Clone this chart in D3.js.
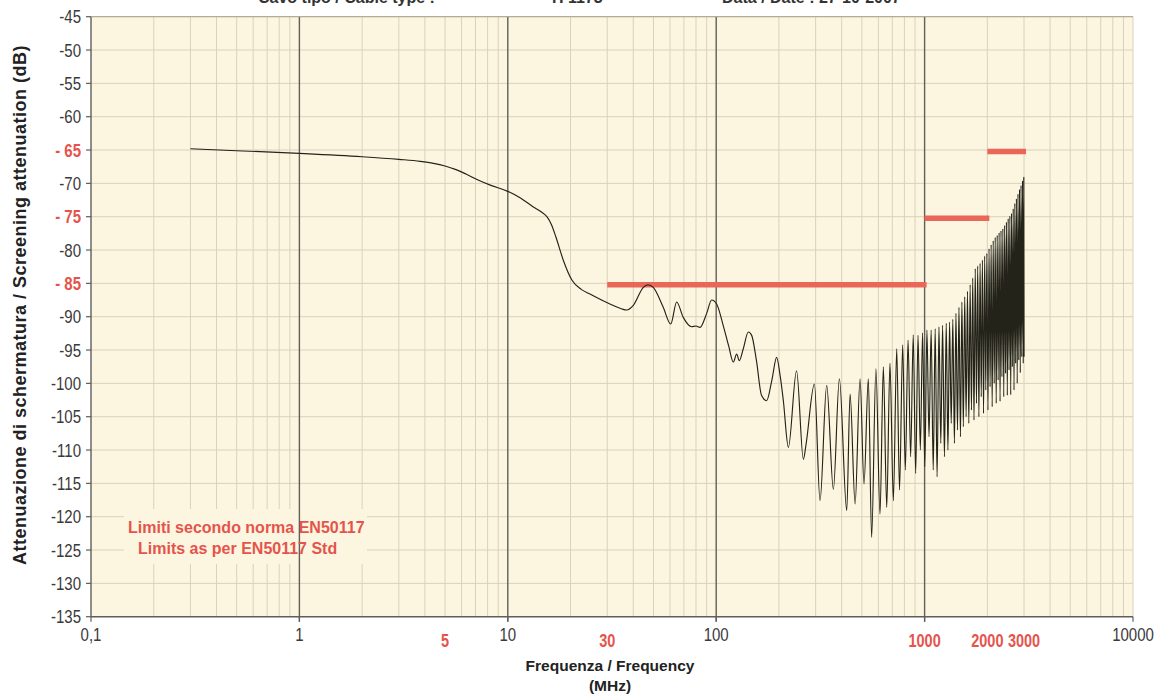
<!DOCTYPE html>
<html>
<head>
<meta charset="utf-8">
<script src="https://cdn.jsdelivr.net/npm/d3@7"></script>
<style>
  body { margin: 0; background: #ffffff; }
  svg { display: block; font-family: "Liberation Sans", Arial, sans-serif; }
</style>
</head>
<body>
<svg id="chart" width="1163" height="695"></svg>
<script>
// ---------------- data ----------------
const titleTexts = ["Cavo tipo / Cable type :", "H 1173", "Data / Date : 27-10-2007"];

const yTicks = [-45, -50, -55, -60, -65, -70, -75, -80, -85, -90, -95, -100, -105, -110, -115, -120, -125, -130, -135];
const yRedTicks = [-65, -75, -85];

const xBlackTicks = [0.1, 1, 10, 100, 10000];
const xBlackLabels = ["0,1", "1", "10", "100", "10000"];
const xRedTicks = [5, 30, 1000, 2000, 3000];
const xRedLabels = ["5", "30", "1000", "2000", "3000"];
const decades = [0.1, 1, 10, 100, 1000];
const majorLines = [1, 10, 100, 1000];

const limitFrom = [30, 1000, 2000];
const limitTo = [1000, 2000, 3000];
const limitDb = [-85, -75, -65];

const legendLines = ["Limiti secondo norma EN50117", "Limits as per EN50117 Std"];

// measured screening attenuation: [frequency MHz, dB]
const curve = [
  [0.3, -64.8], [0.5, -65.1], [1, -65.5], [2, -66.0], [3, -66.4], [3.8, -66.7], [4.4, -67.0],
  [5.0, -67.4], [5.6, -67.9], [6.3, -68.6], [7.2, -69.5], [8.3, -70.3], [10, -71.2], [11.5, -72.2],
  [13.2, -73.5], [14.5, -74.3], [15.4, -75.0], [16.2, -76.2], [17, -78.0], [18.5, -81.6], [20.3, -84.5],
  [22.5, -85.9], [24.8, -86.6],
  [30.9, -88.1], [35, -88.8], [37.2, -89.0], [40, -88.3], [44.7, -85.6], [47, -85.2], [49.9, -85.6],
  [55.7, -88.6], [60.5, -91.1], [64.6, -87.8], [69.5, -90.1], [76.2, -91.5], [80, -91.4], [83.6, -91.6],
  [90, -89.5], [95.1, -87.5], [100.5, -88.1], [108, -91.3], [115, -94.5], [120.8, -96.8], [125.4, -95.6],
  [129, -96.6], [134.9, -94.8], [142.6, -92.3], [148, -92.8], [156, -96.6], [165, -101.8], [174.6, -102.6],
  [185, -99.5], [195, -96.1], [203, -99], [210, -102.6], [222, -109.6], [243, -98.1], [262, -111.4],
  [270, -109.1], [296, -100.1], [315, -117.6], [339, -100.3], [365, -115.9], [390, -99.3], [423, -119.1],
  [439, -101.6], [464, -118.1], [490, -99.3], [512, -115.1], [537, -99.3], [557, -123.1], [584, -97.8],
  [611, -119.6], [634, -97.5], [658, -118.6], [682, -97], [708, -117.6], [735, -94.8],
  [758, -116], [785, -94.2], [808, -113], [833, -93.5], [857, -111], [882, -92.7], [906, -113.5],
  [930, -92.8], [954, -110], [978, -92.4], [1002, -112.5], [1026, -92], [1050, -108], [1075, -92],
  [1100, -113], [1124, -91.8], [1148, -114], [1172, -91.5], [1196, -109], [1220, -91.3], [1245, -111],
  [1270, -91], [1294, -110], [1318, -90.8], [1342, -106], [1366, -90.4], [1390, -109], [1414, -89.5],
  [1438, -107], [1462, -88.6], [1486, -108], [1510, -87.8], [1534, -106.5], [1558, -87], [1582, -105],
  [1606, -86.2], [1630, -106], [1654, -85.2], [1678, -104], [1702, -84.2], [1726, -105.5], [1750, -82.8],
  [1774, -103], [1798, -82.4], [1822, -105], [1846, -82], [1870, -102], [1894, -81.5], [1918, -104.5],
  [1942, -80.9], [1966, -101], [1990, -80.5], [2014, -104], [2038, -79.8], [2062, -100.5], [2086, -79.2],
  [2110, -103.5], [2134, -78.6], [2158, -100], [2182, -78.1], [2206, -103], [2230, -77.8], [2254, -99.5],
  [2278, -77.4], [2302, -102.7], [2326, -77.1], [2350, -99], [2374, -76.8], [2398, -102], [2422, -76.3],
  [2446, -98.5], [2470, -75.8], [2494, -101.8], [2518, -75.3], [2542, -98], [2566, -74.9], [2590, -101.7],
  [2614, -74.5], [2638, -97.5], [2662, -73.8], [2686, -101], [2710, -73], [2734, -97], [2758, -72.3],
  [2782, -100], [2806, -71.6], [2830, -96.5], [2854, -70.9], [2878, -98.4], [2902, -70.3], [2926, -96],
  [2950, -69.6], [2974, -97], [2992, -69.1], [3000, -96]
];

// ---------------- layout ----------------
const svg = d3.select("#chart");
const L = 91, R = 1133, T = 16.7, B = 616.7;
const x = d3.scaleLog().domain([0.1, 10000]).range([L, R]);
const y = d3.scaleLinear().domain([-135, -45]).range([B, T]);

const cream = "#fcf6e0";
const gridCol = "#d9d1bb";
const red = "#e5544c";

// plot background
svg.append("rect").attr("x", L).attr("y", T).attr("width", R - L).attr("height", B - T).attr("fill", cream);

// horizontal grid
svg.append("g").selectAll("line").data(yTicks.filter(v => v !== -135)).join("line")
  .attr("x1", L).attr("x2", R).attr("y1", d => y(d)).attr("y2", d => y(d))
  .attr("stroke", gridCol).attr("stroke-width", 1);

// minor vertical grid
const minor = [];
decades.forEach(d => { for (let m = 2; m <= 9; m++) minor.push(d * m); });
minor.push(10000);
svg.append("g").selectAll("line").data(minor).join("line")
  .attr("x1", d => x(d)).attr("x2", d => x(d)).attr("y1", T).attr("y2", B)
  .attr("stroke", gridCol).attr("stroke-width", 1);

// legend box (covers grid)
svg.append("rect").attr("x", 124).attr("y", 509).attr("width", 243).attr("height", 55).attr("fill", cream);

// major vertical lines
svg.append("g").selectAll("line").data(majorLines).join("line")
  .attr("x1", d => x(d)).attr("x2", d => x(d)).attr("y1", T).attr("y2", B + 5)
  .attr("stroke", "#5f5f5a").attr("stroke-width", 1.4);

// limit lines
svg.append("g").selectAll("line").data(limitDb).join("line")
  .attr("x1", (d, i) => x(limitFrom[i])).attr("x2", (d, i) => x(limitTo[i]) + 2)
  .attr("y1", d => y(d) + 1.5).attr("y2", d => y(d) + 1.5)
  .attr("stroke", "#ea6659").attr("stroke-width", 5.5);

// curve
const line = d3.line().x(d => x(d[0])).y(d => y(d[1])).curve(d3.curveMonotoneX);
svg.append("path").datum(curve).attr("d", line)
  .attr("fill", "none").attr("stroke", "#23231a").attr("stroke-width", 1.15).attr("stroke-linejoin", "round");

// axes lines
svg.append("line").attr("x1", L).attr("x2", L).attr("y1", T).attr("y2", B).attr("stroke", "#5f5f5a").attr("stroke-width", 1.4);
svg.append("line").attr("x1", L).attr("x2", R).attr("y1", B).attr("y2", B).attr("stroke", "#5f5f5a").attr("stroke-width", 1.4);
svg.append("line").attr("x1", L).attr("x2", R).attr("y1", T).attr("y2", T).attr("stroke", "#a8a290").attr("stroke-width", 1);

// y ticks
svg.append("g").selectAll("line").data(yTicks).join("line")
  .attr("x1", L - 5).attr("x2", L).attr("y1", d => y(d)).attr("y2", d => y(d))
  .attr("stroke", "#5f5f5a").attr("stroke-width", 1.2);
// x ticks
svg.append("g").selectAll("line").data([0.1, 1, 10, 100, 1000, 10000]).join("line")
  .attr("x1", d => x(d)).attr("x2", d => x(d)).attr("y1", B).attr("y2", B + 5)
  .attr("stroke", "#5f5f5a").attr("stroke-width", 1.2);

// y tick labels (vertically stretched like the original)
svg.append("g").selectAll("text").data(yTicks).join("text")
  .attr("transform", d => `translate(81,${y(d) + 6.5}) scale(1,1.22)`)
  .attr("text-anchor", "end")
  .attr("font-size", 15)
  .attr("font-weight", d => yRedTicks.includes(d) ? "bold" : "normal")
  .attr("fill", d => yRedTicks.includes(d) ? red : "#3a3a3a")
  .text(d => yRedTicks.includes(d) ? "- " + Math.abs(d) : String(d));

// x tick labels
svg.append("g").selectAll("text").data(xBlackTicks).join("text")
  .attr("transform", d => `translate(${x(d)},641) scale(1,1.22)`)
  .attr("text-anchor", "middle").attr("font-size", 15).attr("fill", "#3a3a3a")
  .text((d, i) => xBlackLabels[i]);
svg.append("g").selectAll("text").data(xRedTicks).join("text")
  .attr("transform", d => `translate(${x(d)},647) scale(1,1.22)`)
  .attr("text-anchor", "middle").attr("font-size", 14.5).attr("font-weight", "bold").attr("fill", red)
  .text((d, i) => xRedLabels[i]);

// axis titles
svg.append("text").attr("x", 610).attr("y", 671).attr("text-anchor", "middle")
  .attr("font-size", 15.5).attr("font-weight", "bold").attr("fill", "#222").text("Frequenza / Frequency");
svg.append("text").attr("x", 610).attr("y", 691).attr("text-anchor", "middle")
  .attr("font-size", 15.5).attr("font-weight", "bold").attr("fill", "#222").text("(MHz)");
svg.append("text").attr("transform", "translate(26,305) rotate(-90)").attr("text-anchor", "middle")
  .attr("font-size", 18).attr("font-weight", "bold").attr("letter-spacing", 0.5).attr("fill", "#222")
  .text("Attenuazione di schermatura / Screening attenuation (dB)");

// legend text
svg.append("g").selectAll("text").data(legendLines).join("text")
  .attr("x", (d, i) => i === 0 ? 128 : 138).attr("y", (d, i) => i === 0 ? 533 : 554)
  .attr("font-size", 16).attr("font-weight", "bold").attr("fill", red).text(d => d);

// clipped header texts (cut by the top edge, as in the original)
const titleX = [258, 552, 722];
svg.append("g").selectAll("text").data(titleTexts).join("text")
  .attr("x", (d, i) => titleX[i]).attr("y", 3)
  .attr("font-size", 16).attr("font-weight", "bold").attr("fill", "#333").text(d => d);
</script>
</body>
</html>
